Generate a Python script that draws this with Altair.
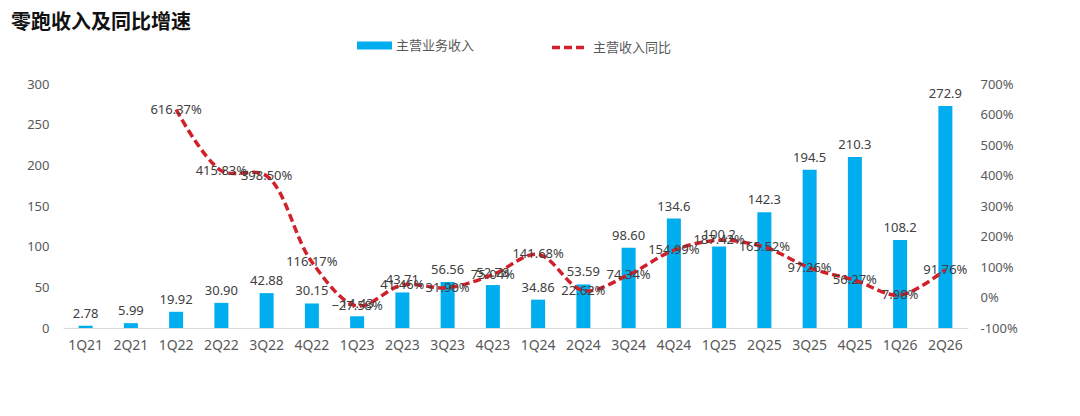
import altair as alt
import pandas as pd

TITLE = '零跑收入及同比增速'
quarters = ['1Q21', '2Q21', '1Q22', '2Q22', '3Q22', '4Q22', '1Q23', '2Q23', '3Q23', '4Q23',
            '1Q24', '2Q24', '3Q24', '4Q24', '1Q25', '2Q25', '3Q25', '4Q25', '1Q26', '2Q26']
revenue = [2.78, 5.99, 19.92, 30.90, 42.88, 30.15, 14.43, 43.71, 56.56, 52.78,
           34.86, 53.59, 98.60, 134.6, 100.2, 142.3, 194.5, 210.3, 108.2, 272.9]
revenue_text = ['2.78', '5.99', '19.92', '30.90', '42.88', '30.15', '14.43', '43.71', '56.56', '52.78',
                '34.86', '53.59', '98.60', '134.6', '100.2', '142.3', '194.5', '210.3', '108.2', '272.9']
yoy = [None, None, 616.37, 415.83, 398.50, 116.17, -27.58, 41.46, 31.90, 75.04,
       141.68, 22.62, 74.34, 154.99, 187.42, 165.52, 97.26, 56.27, 7.98, 91.76]

BAR_NAME = '主营业务收入'
LINE_NAME = '主营收入同比'
BLUE = '#00AEEF'
RED = '#D0202A'
FONT = 'Noto Sans, Noto Sans CJK SC'
CJK = 'Noto Sans CJK SC'
TXT = '#404040'
AX = '#595959'

df = pd.DataFrame({'q': quarters, 'rev': revenue, 'rev_text': revenue_text, 'yoy': yoy})
df['bar_s'] = BAR_NAME
df['line_s'] = LINE_NAME

x_axis = alt.Axis(labelAngle=0, ticks=False, domainColor='#D9D9D9', labelPadding=10,
                  labelFontSize=14, labelColor=AX, labelFont=FONT)
x_enc = alt.X('q:N', sort=quarters, title=None,
              scale=alt.Scale(paddingInner=0, paddingOuter=0), axis=x_axis)

left_axis = alt.Axis(values=[0, 50, 100, 150, 200, 250, 300], grid=False, ticks=False,
                     domain=False, labelPadding=14, labelFontSize=13, labelColor=AX,
                     labelFont=FONT, labelOverlap=False)
right_axis = alt.Axis(orient='right', values=[-100, 0, 100, 200, 300, 400, 500, 600, 700],
                      labelExpr="datum.value + '%'", grid=False, ticks=False, domain=False,
                      labelPadding=12, labelFontSize=13, labelColor=AX, labelFont=FONT,
                      labelOverlap=False)
rev_scale = alt.Scale(domain=[0, 300], nice=False)
yoy_scale = alt.Scale(domain=[-100, 700], nice=False)

base = alt.Chart(df)

bars = base.mark_bar(size=14, color=BLUE).encode(
    x=x_enc,
    y=alt.Y('rev:Q', title=None, scale=rev_scale, axis=left_axis),
    color=alt.Color('bar_s:N', scale=alt.Scale(domain=[BAR_NAME], range=[BLUE]),
                    legend=alt.Legend(title=None, orient='none', legendX=294, legendY=-56,
                                      symbolType='M-1,-0.23H1V0.23H-1Z', symbolSize=1225,
                                      symbolStrokeWidth=0, labelFontSize=13, labelColor=AX,
                                      labelFont=CJK, labelOffset=4)),
)

bar_labels = base.mark_text(baseline='bottom', dy=-5, fontSize=13, color=TXT, font=FONT).encode(
    x=x_enc,
    y=alt.Y('rev:Q', title=None, scale=rev_scale, axis=left_axis),
    text='rev_text:N',
)

left = alt.layer(bars, bar_labels)

line = base.transform_filter('datum.yoy != null').mark_line(
    interpolate='catmull-rom', strokeWidth=3.5, strokeDash=[8, 4]
).encode(
    x=x_enc,
    y=alt.Y('yoy:Q', title=None, scale=yoy_scale, axis=right_axis),
    stroke=alt.Stroke('line_s:N', scale=alt.Scale(domain=[LINE_NAME], range=[RED]),
                      legend=alt.Legend(title=None, orient='none', legendX=487, legendY=-56,
                                        symbolType='stroke', symbolSize=1225, symbolStrokeWidth=3.5,
                                        symbolDash=[8, 4], labelFontSize=13, labelColor=AX,
                                        labelFont=CJK, labelOffset=4)),
)

line_labels = base.transform_filter('datum.yoy != null').transform_calculate(
    yoy_text="format(datum.yoy, '.2f') + '%'"
).mark_text(baseline='middle', fontSize=13, color=TXT, font=FONT).encode(
    x=x_enc,
    y=alt.Y('yoy:Q', title=None, scale=yoy_scale, axis=right_axis),
    text='yoy_text:N',
)

right = alt.layer(line, line_labels)

title = alt.Chart(pd.DataFrame({'t': [TITLE]})).mark_text(
    align='left', baseline='middle', font=CJK, fontSize=20, fontWeight='bold', color='#111111'
).encode(x=alt.value(-52), y=alt.value(-61), text='t:N')

chart = alt.layer(left, right, title).resolve_scale(y='independent', color='independent').properties(
    width=905,
    height=244,
    autosize=alt.AutoSizeParams(type='none'),
    padding={'left': 55, 'top': 76, 'right': 100, 'bottom': 80},
    background='white',
).configure_view(stroke=None)

chart.save('out.html', embed_options={'renderer': 'svg', 'actions': False})
